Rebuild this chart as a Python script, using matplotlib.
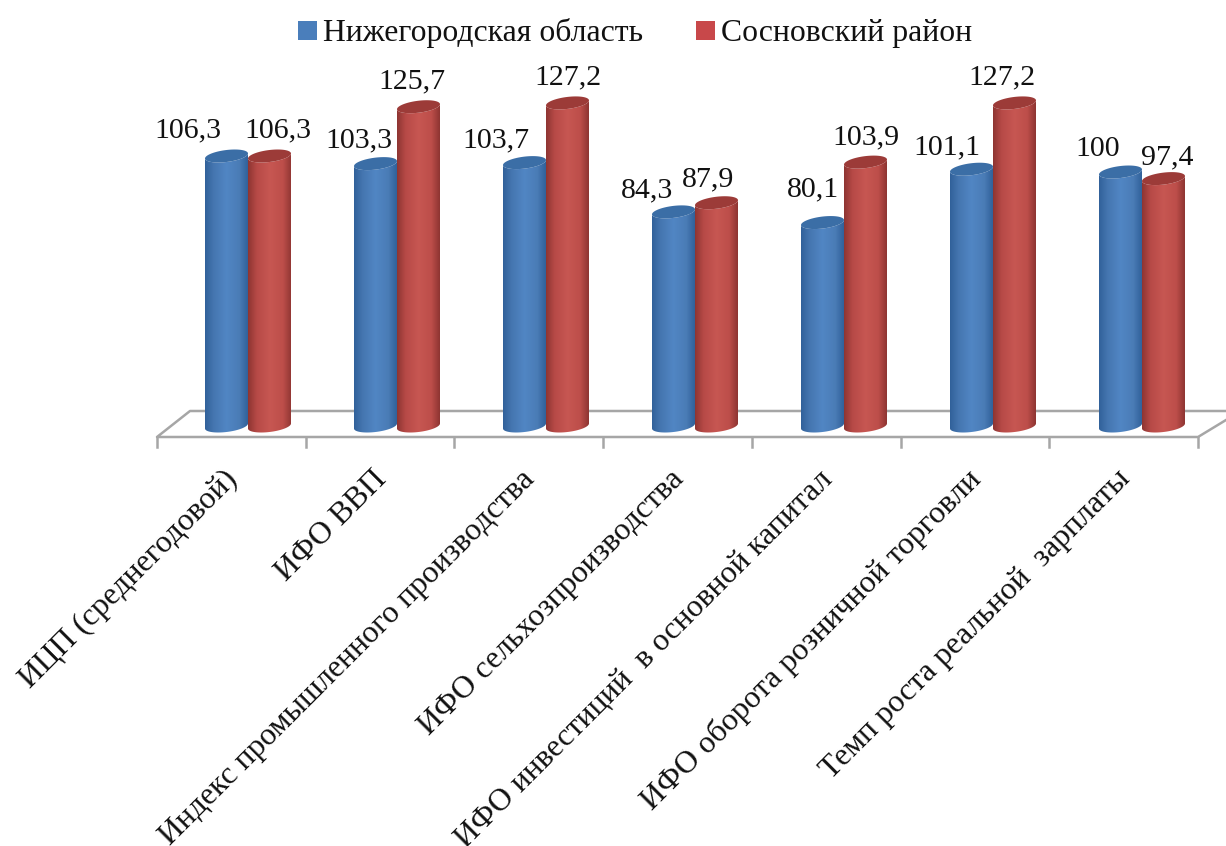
import numpy as np
import matplotlib
matplotlib.use('Agg')
import matplotlib.pyplot as plt
from matplotlib.colors import LinearSegmentedColormap
from matplotlib.patches import Patch, Polygon

plt.rcParams['font.family'] = ['Liberation Serif', 'DejaVu Serif']

categories = ['ИЦП (среднегодовой)', 'ИФО ВВП', 'Индекс промышленного производства',
              'ИФО сельхозпроизводства', 'ИФО инвестиций  в основной капитал',
              'ИФО оборота розничной торговли', 'Темп роста реальной  зарплаты']
series_names = ['Нижегородская область', 'Сосновский район']
region = [106.3, 103.3, 103.7, 84.3, 80.1, 101.1, 100]
district = [106.3, 125.7, 127.2, 87.9, 103.9, 127.2, 97.4]

# pixel layout of the picture
W, H = 1226, 846
X0, DX = 248, 149      # px of first group centre, px per category
Y0, DY = 426, 2.54     # px of value 0, px per unit
BAR = 43 / DX

# label shifts from the bar centre, px
off_region = [(-39, 3), (-17, 5), (-29, 6), (-26, 7), (-10, -5), (-25, 6), (-23, 5)]
off_district = [(8, 3), (-7, 3), (0, 3), (-8, 5), (0, 4), (-13, 3), (4, 7)]


def px_x(p):
    return (p - X0) / DX


def px_y(p):
    return (Y0 - p) / DY


def cylinder(ax, xc, val, cmap, top_color):
    a = BAR / 2
    b = 6 / DY
    tilt = 2.5 / DY
    t = np.linspace(np.pi, 2 * np.pi, 40)
    low_x = xc + a * np.cos(t)
    low_off = b * np.sin(t) + tilt * np.cos(t)
    body = np.r_[np.c_[low_x, low_off],
                 np.c_[low_x[::-1], val + low_off[::-1]]]
    im = ax.imshow(np.linspace(0, 1, 128)[None, :], cmap=cmap, aspect='auto',
                   extent=(xc - a, xc + a, -20, val + 20), zorder=3)
    im.set_clip_path(Polygon(body, closed=True, transform=ax.transData))
    t2 = np.linspace(0, 2 * np.pi, 80)
    top = np.c_[xc + a * np.cos(t2), val + b * np.sin(t2) + tilt * np.cos(t2)]
    ax.add_patch(Polygon(top, closed=True, fc=top_color, ec='none', zorder=4))


fig = plt.figure(figsize=(W / 100, H / 100), dpi=100)
ax = fig.add_axes([0, 0, 1, 1])
ax.axis('off')

blue = LinearSegmentedColormap.from_list('b', [(0, '#31619a'), (0.2, '#4576b0'), (0.5, '#5186c4'),
                                               (0.8, '#4a7cb6'), (1, '#31619a')])
red = LinearSegmentedColormap.from_list('r', [(0, '#8e3532'), (0.2, '#b74a47'), (0.5, '#c75752'),
                                              (0.8, '#bd4e4a'), (1, '#8e3532')])

# floor
gray = '#a6a6a6'
ax.plot([px_x(p) for p in (1226, 190, 157, 1198, 1226)],
        [px_y(p) for p in (411, 411, 437, 437, 420)], color=gray, lw=1.8, zorder=1)
ticks = np.linspace(157, 1198, len(categories) + 1)
for p in ticks:
    ax.plot([px_x(p), px_x(p)], [px_y(437), px_y(447)], color=gray, lw=1.8, zorder=1)

x = np.arange(len(categories))
for i in x:
    cylinder(ax, i - BAR / 2, region[i], blue, '#3b6ea6')
    cylinder(ax, i + BAR / 2, district[i], red, '#9c3b38')
    xb = i - BAR / 2
    xr = i + BAR / 2
    ax.annotate(str(region[i]).replace('.', ','), (xb, region[i]), xytext=(off_region[i][0] * 0.72, 11 - off_region[i][1] * 0.72),
                textcoords='offset points', ha='center', va='bottom', fontsize=21.5, color='#111111', zorder=5)
    ax.annotate(str(district[i]).replace('.', ','), (xr, district[i]), xytext=(off_district[i][0] * 0.72, 11 - off_district[i][1] * 0.72),
                textcoords='offset points', ha='center', va='bottom', fontsize=21.5, color='#111111', zorder=5)
    # category label
    ax.text(px_x((ticks[i] + ticks[i + 1]) / 2 + 2), px_y(475), categories[i], rotation=45, rotation_mode='anchor',
            ha='right', va='center', fontsize=22.8, color='#111111')

ax.set_xlim(px_x(0), px_x(W))
ax.set_ylim(px_y(H), px_y(0))

handles = [Patch(fc='#4a7ebb', ec='none'), Patch(fc='#c8484a', ec='none')]
ax.legend(handles, series_names, loc='upper center', bbox_to_anchor=(0.518, 1.012), ncol=2, frameon=False,
          fontsize=22.9, handlelength=0.6, handleheight=0.55, handletextpad=0.19, columnspacing=1.67,
          labelcolor='#111111')

fig.savefig('out.png', dpi=100)
